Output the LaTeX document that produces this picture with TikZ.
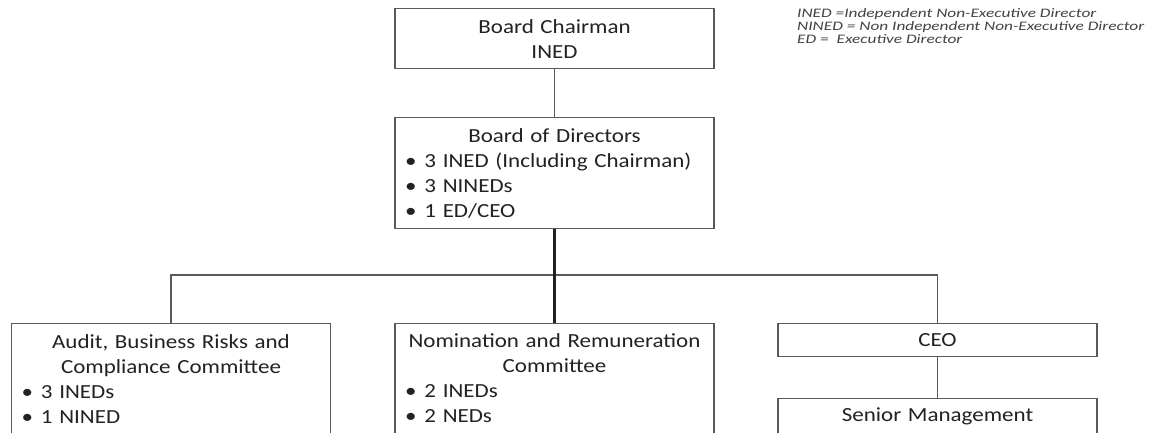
\documentclass[tikz,border=0pt]{standalone}
\usepackage{fontspec}
\setmainfont{Carlito}[FakeStretch=1.15]
\newfontfamily\legendfont{Carlito}[FakeStretch=1.33]
\usetikzlibrary{positioning}
\definecolor{linegray}{HTML}{5A5A5A}
\definecolor{textgray}{HTML}{222222}
\newcommand{\bul}[1]{\textbullet\hspace{8pt}#1}

\begin{document}
\begin{tikzpicture}[x=1pt, y=-1pt,
	box/.style={draw=linegray, line width=1.2pt, anchor=north, inner xsep=10pt, inner ysep=0pt,
		text width=299pt, text=textgray, font=\fontsize{20}{25}\selectfont},
	link/.style={draw=linegray, line width=1.2pt}]
	\useasboundingbox (0,0) rectangle (1160,432);
	\fill [white] (0,0) rectangle (1160,432);
	\clip (0,0) rectangle (1160,432);
	
	% top of the chart
	\node [box, minimum height=60pt, align=center] (chair) at (554.5,8) {Board Chairman\\INED};
	\node [box, minimum height=111pt] (bod) at (554.5,117)
	{{\centering Board of Directors\par}\raggedright
		\bul{3 INED (Including Chairman)}\\\bul{3 NINEDs}\\\bul{1 ED/CEO}};
	
	% committees
	\node [box, minimum height=110pt] (audit) at (171,323)
	{{\centering Audit, Business Risks and\\Compliance Committee\par}\raggedright
		\bul{3 INEDs}\\\bul{1 NINED}};
	\node [box, minimum height=110pt] (nom) at (554.5,323)
	{{\centering Nomination and Remuneration\\Committee\par}\raggedright
		\bul{2 INEDs}\\\bul{2 NEDs}};
	
	% management side
	\node [box, minimum height=33pt, align=center] (ceo) at (937.5,323) {CEO};
	\node [box, minimum height=35pt, align=center] (senior) at (937.5,398) {Senior Management};
	
	% legend
	\node [anchor=north west, align=left, inner sep=0pt, text=textgray!85,
		font=\legendfont\fontsize{13}{13}\selectfont\itshape] (legend) at (797,8)
	{INED =Independent Non-Executive Director\\
		NINED = Non Independent Non-Executive Director\\
		ED =\ \ Executive Director};
	
	% connectors
	\coordinate (bus) at (554.5,275);
	\draw [link] (chair.south) -- (bod.north);
	\draw [link] (audit.north) |- (bus) -| (ceo.north);
	\draw [link, line width=2.4pt, draw=textgray] (bod.south) -- (nom.north);
	\draw [link] (ceo.south) -- (senior.north);
\end{tikzpicture}
\end{document}
